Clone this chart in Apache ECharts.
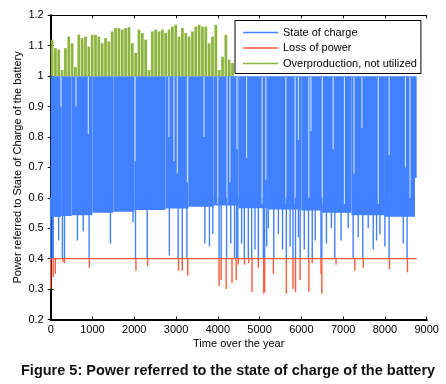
<!DOCTYPE html>
<html><head><meta charset="utf-8">
<script src="https://cdn.jsdelivr.net/npm/echarts@6/dist/echarts.min.js"></script>
<style>html,body{margin:0;padding:0;background:#fff}#c{width:446px;height:384px}</style>
</head><body><div id="c"></div>
<script>
// ---- data ----
const xTicks = [0,1000,2000,3000,4000,5000,6000,7000,8000,9000];
const yTicks = [0.2,0.3,0.4,0.5,0.6,0.7,0.8,0.9,1,1.1,1.2];
const seriesNames = ['State of charge','Loss of power','Overproduction, not utilized'];

// state of charge: dense band between lower edge and full charge
const socBandStart = [0,250,500,1000,1500,2000,2750,3300,3900,4500,5200,6000,6500,7200,8000,8720];
const socBandLow   = [0.537,0.54,0.543,0.551,0.554,0.56,0.565,0.571,0.575,0.566,0.562,0.558,0.551,0.543,0.538,0.665];
const socEnd = 8760;
const socFull = 1.0;
// downward spikes of the state of charge (hour, minimum)
const socSpikeHours = [0,40,60,190,280,330,640,780,920,1430,1970,2030,2310,2840,3050,3150,3260,3690,3800,3880,4030,4080,4210,4310,4400,4450,4480,4570,4635,4730,4810,4890,4970,5090,5120,5170,5210,5340,5450,5550,5640,5730,5800,5860,5930,5970,6070,6170,6260,6330,6470,6490,6600,6720,6800,6950,7120,7240,7360,7470,7600,7720,7800,7880,8000,8100,8440,8530];
const socSpikeMin   = [0.4,0.4,0.4,0.46,0.4,0.4,0.46,0.49,0.4,0.45,0.52,0.4,0.4,0.41,0.4,0.4,0.4,0.45,0.44,0.48,0.4,0.4,0.4,0.45,0.4,0.4,0.4,0.45,0.4,0.4,0.4,0.43,0.4,0.4,0.4,0.44,0.5,0.4,0.48,0.43,0.4,0.44,0.4,0.4,0.47,0.4,0.43,0.4,0.4,0.46,0.4,0.4,0.45,0.5,0.4,0.46,0.5,0.4,0.47,0.4,0.5,0.43,0.46,0.48,0.44,0.4,0.45,0.4];
// periods where the charge stayed full (hour, lowest level of the white streak)
const socGapHours = [245,605,900,2020,2830,2950,3030,3270,3670,4000,4220,4290,4460,4690,5060,5150,5630,5850,5930,6180,6230,6500,6760,7030,7260,7450,7840,8100,8490,8600];
const socGapLow   = [0.90,0.90,0.81,0.72,0.80,0.72,0.68,0.65,0.80,0.58,0.58,0.65,0.76,0.73,0.58,0.66,0.58,0.58,0.79,0.60,0.82,0.58,0.76,0.58,0.68,0.83,0.58,0.74,0.70,0.60];

// loss of power: level line with dips
const lossLevel = 0.4;
const lossDipHours = [0,60,110,290,330,925,2040,2320,3060,3150,3280,4030,4080,4200,4340,4440,4490,4640,4740,4820,4970,5100,5120,5330,5640,5800,5860,5970,6180,6260,6470,6490,6830,7280,7480,8110,8540];
const lossDipMin   = [0.30,0.34,0.35,0.39,0.385,0.37,0.36,0.375,0.36,0.36,0.345,0.31,0.33,0.30,0.32,0.33,0.38,0.38,0.385,0.29,0.37,0.285,0.29,0.35,0.285,0.30,0.29,0.33,0.29,0.385,0.35,0.285,0.38,0.36,0.37,0.365,0.355];

// overproduction: top of the band above full charge, in 80-hour bins from hour 0
const overBinHours = 80;
const overTop = [1.12,1.092,1.087,1.02,1.092,1.13,1.108,1.03,1.136,1.125,1.13,1.097,1.136,1.136,1.13,1.108,1.125,1.114,1.147,1.158,1.158,1.153,1.158,1.161,1.108,1.076,1.153,1.142,1.12,1.02,1.147,1.153,1.147,1.153,1.142,1.153,1.163,1.169,1.13,1.158,1.142,1.13,1.147,1.163,1.169,1.163,1.163,1.108,1.13,1.169,1.02,1.064,1.136,1.054,1.043];

// ---- styling ----
const BLUE='#4180ff', RED='#ff5a3c', GREEN='#8db43f';
const FONT='Liberation Sans, Arial, sans-serif';

const bandData = socBandStart.map((s,i)=>[s, i+1<socBandStart.length?socBandStart[i+1]:socEnd, socBandLow[i], socFull]);
const spikeData = socSpikeHours.map((h,i)=>[h, socSpikeMin[i]]);
const gapData = socGapHours.map((h,i)=>[h, socGapLow[i]]);
const dipData = lossDipHours.map((h,i)=>[h, lossDipMin[i]]);
const overData = overTop.map((t,i)=>[i*overBinHours, (i+1)*overBinHours, t]);

function rangeRender(params, api){
  const p0 = api.coord([api.value(0), api.value(3)]);
  const p1 = api.coord([api.value(1), api.value(2)]);
  return {type:'rect', shape:{x:p0[0], y:p0[1], width:p1[0]-p0[0], height:p1[1]-p0[1]}, style:{fill:BLUE}};
}
function vline(top, color, w, opacity){
  return function(params, api){
    const a = api.coord([api.value(0), top]);
    const b = api.coord([api.value(0), api.value(1)]);
    const y0=Math.min(a[1],b[1]), y1=Math.max(a[1],b[1]);
    return {type:'rect', shape:{x:a[0]-w/2, y:y0, width:w, height:y1-y0}, style:{fill:color, opacity:opacity}};
  };
}
function overRender(params, api){
  const p0 = api.coord([api.value(0), api.value(2)]);
  const p1 = api.coord([api.value(1), socFull]);
  return {type:'rect', shape:{x:p0[0], y:p0[1], width:Math.max(0.5,p1[0]-p0[0]-0.6), height:p1[1]-p0[1]}, style:{fill:GREEN}};
}

const chart = echarts.init(document.getElementById('c'), null, {renderer:'canvas'});
const axisCommon = {type:'value', splitLine:{show:false}};
chart.setOption({
  animation:false,
  backgroundColor:'#fff',
  title:{text:'Figure 5: Power referred to the state of charge of the battery', left:21, top:363, padding:0,
    textStyle:{fontFamily:FONT, fontSize:14.5, fontWeight:'bold', color:'#111'}},
  grid:{left:50.7, right:19.3, top:15.3, bottom:64.5},
  legend:{orient:'vertical', left:235, top:20.5, padding:[5,4,3,8], itemGap:1.5, itemWidth:35, itemHeight:1.5,
    backgroundColor:'#fff', borderColor:'#000', borderWidth:1, borderRadius:0,
    textStyle:{fontFamily:FONT, fontSize:11, color:'#000', lineHeight:14},
    data:[{name:seriesNames[0], icon:'rect', itemStyle:{color:BLUE}},
          {name:seriesNames[1], icon:'rect', itemStyle:{color:RED}},
          {name:seriesNames[2], icon:'rect', itemStyle:{color:GREEN}}]},
  xAxis:[
    Object.assign({}, axisCommon, {min:xTicks[0], max:xTicks[xTicks.length-1], interval:1000, position:'bottom',
      name:'Time over the year', nameLocation:'middle', nameGap:19, nameMoveOverlap:false,
      nameTextStyle:{fontFamily:FONT, fontSize:11, color:'#000'},
      axisLine:{lineStyle:{color:'#000', width:2}},
      axisTick:{inside:true, length:3, lineStyle:{color:'#000'}},
      axisLabel:{fontFamily:FONT, fontSize:11, color:'#000', margin:5, formatter:v=>String(Math.round(v))}}),
    Object.assign({}, axisCommon, {min:xTicks[0], max:xTicks[xTicks.length-1], interval:1000, position:'top',
      axisLine:{lineStyle:{color:'#000', width:1}},
      axisTick:{inside:true, length:3, lineStyle:{color:'#000'}}, axisLabel:{show:false}})
  ],
  yAxis:[
    Object.assign({}, axisCommon, {min:yTicks[0], max:yTicks[yTicks.length-1], interval:0.1, position:'left',
      name:'Power referred to State of Charge of the battery', nameLocation:'middle', nameGap:27, nameMoveOverlap:false,
      nameTextStyle:{fontFamily:FONT, fontSize:11, color:'#000'},
      axisLine:{lineStyle:{color:'#000', width:2}},
      axisTick:{inside:true, length:3, lineStyle:{color:'#000'}},
      axisLabel:{fontFamily:FONT, fontSize:11, color:'#000', margin:7, formatter:v=>String(+(+v).toFixed(1))}}),
    Object.assign({}, axisCommon, {min:yTicks[0], max:yTicks[yTicks.length-1], interval:0.1, position:'right',
      axisLine:{lineStyle:{color:'#000', width:1}},
      axisTick:{inside:true, length:3, lineStyle:{color:'#000'}}, axisLabel:{show:false}})
  ],
  series:[
    {name:seriesNames[0], type:'custom', renderItem:rangeRender, data:bandData, itemStyle:{color:BLUE}, z:1,
      encode:{x:[0,1], y:[2,3]}},
    {name:'gaps', type:'custom', renderItem:vline(0.997,'#ffffff',1.1,0.75), data:gapData, z:2, encode:{x:0,y:1}},
    {name:'spikes', type:'custom', renderItem:vline(0.6,BLUE,1.4,1), data:spikeData, z:3, encode:{x:0,y:1}},
    {name:seriesNames[2], type:'custom', renderItem:overRender, data:overData, itemStyle:{color:GREEN}, z:3,
      encode:{x:[0,1], y:2}},
    {name:seriesNames[1], type:'line', data:[[0,lossLevel],[socEnd,lossLevel]], symbol:'none',
      lineStyle:{color:RED, width:1.2}, itemStyle:{color:RED}, z:5},
    {name:'dips', type:'custom', renderItem:vline(lossLevel,RED,1.4,1), data:dipData, z:5, encode:{x:0,y:1}}
  ]
});
</script></body></html>
